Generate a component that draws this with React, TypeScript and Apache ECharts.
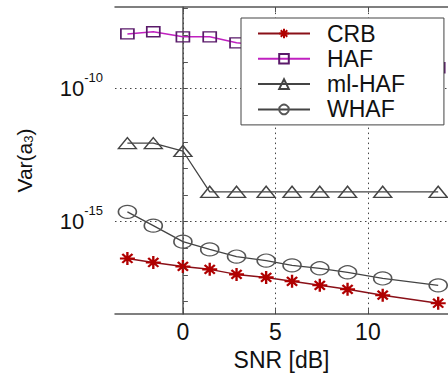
import React, { useEffect, useRef } from 'react';
import * as echarts from 'echarts';

// SNR grid [dB]
const SNR_DB = [-3, -1.6, 0, 1.45, 2.9, 4.5, 5.9, 7.4, 8.9, 10.8, 13.8];

// Var(a3) values
const CRB = [4.17e-17, 2.95e-17, 2.09e-17, 1.62e-17, 1.05e-17, 8.1e-18, 5.75e-18, 4.07e-18, 2.88e-18, 1.74e-18, 8.7e-19];
const HAF = [1.12e-8, 1.35e-8, 8.7e-9, 8.7e-9, 5.2e-9, 4.0e-9, 2.8e-9, 2.0e-9, 1.4e-9, 1.0e-9, 6.0e-10];
const ML_HAF = [8.9e-13, 8.9e-13, 4.5e-13, 1.32e-14, 1.32e-14, 1.32e-14, 1.32e-14, 1.32e-14, 1.32e-14, 1.32e-14, 1.32e-14];
const WHAF = [2.34e-15, 7.1e-16, 1.78e-16, 9.1e-17, 4.9e-17, 3.47e-17, 2.29e-17, 1.78e-17, 1.26e-17, 7.4e-18, 4.07e-18];

const LEGEND_NAMES = ['CRB', 'HAF', 'ml-HAF', 'WHAF'];

// axes (x in dB, y in log10 of variance)
const X_MIN = -3.67;
const X_MAX = 14.33;
const X_TICKS = [0, 5, 10];
const Y_MIN = -18.47;
const Y_MAX = -6.94;
const Y_TICKS = [-18, -17, -16, -15, -14, -13, -12, -11, -10, -9, -8, -7];
const Y_LABELS = [-15, -10];

const STAR = 'path://M0,5 L10,5 M5,0 L5,10 M1.6,1.6 L8.4,8.4 M8.4,1.6 L1.6,8.4';

export default function App() {
  const ref = useRef<HTMLDivElement>(null);
  useEffect(() => {
    const chart = echarts.init(ref.current!, null, { renderer: 'svg' });
    const pts = (vals: number[]) => SNR_DB.map((x, i) => [x, Math.log10(vals[i])]);
    const font = 'Liberation Sans, Arial, Helvetica, sans-serif';
    const axisColor = '#555';
    const gridLine = { type: [1.5, 3.5], color: '#444', width: 1 };
    chart.setOption({
      animation: false,
      backgroundColor: '#fff',
      textStyle: { fontFamily: font },
      grid: { left: 115, top: 7, right: -4, bottom: 60 },
      legend: {
        orient: 'vertical',
        left: 241,
        top: 18,
        padding: [3, 39, 3, 16],
        itemWidth: 52,
        itemHeight: 12,
        itemGap: 0.3,
        backgroundColor: '#fff',
        borderColor: '#444',
        borderWidth: 1,
        textStyle: { fontSize: 23, color: '#111', lineHeight: 25, padding: [0, 0, 0, 12], fontFamily: font },
        data: LEGEND_NAMES,
        z: 10,
      },
      xAxis: [
        {
          type: 'value',
          min: X_MIN,
          max: X_MAX,
          name: 'SNR [dB]',
          nameLocation: 'middle',
          nameGap: 28,
          nameTextStyle: { fontSize: 23, color: '#111', fontFamily: font },
          axisLine: { show: true, lineStyle: { color: axisColor, width: 1.5 } },
          axisTick: { show: true, inside: true, length: 5, customValues: X_TICKS, lineStyle: { color: axisColor } },
          axisLabel: { customValues: X_TICKS, fontSize: 23, color: '#111', margin: 6, fontFamily: font },
          splitLine: { show: false },
        },
        {
          type: 'value',
          position: 'top',
          min: X_MIN,
          max: X_MAX,
          axisLine: { show: true, lineStyle: { color: axisColor, width: 1.5 } },
          axisTick: { show: true, inside: true, length: 5, customValues: X_TICKS, lineStyle: { color: axisColor } },
          axisLabel: { show: false },
          splitLine: { show: false },
        },
      ],
      yAxis: {
        type: 'value',
        min: Y_MIN,
        max: Y_MAX,
        name: '{n|Var(a}{s|3}{n|)}',
        nameLocation: 'middle',
        nameGap: 80,
        nameTextStyle: {
          color: '#111',
          rich: {
            n: { fontSize: 21, color: '#111', fontFamily: font },
            s: { fontSize: 13, color: '#111', fontFamily: font, verticalAlign: 'bottom' },
          },
        },
        axisLine: { show: true, lineStyle: { color: axisColor, width: 1.5 } },
        axisTick: { show: true, inside: true, length: 5, customValues: Y_TICKS, lineStyle: { color: axisColor } },
        axisLabel: {
          customValues: Y_LABELS,
          margin: 12,
          formatter: (v: number) => `{b|10}{s|${Math.round(v)}}`,
          rich: {
            b: { fontSize: 22, color: '#111', lineHeight: 36, fontFamily: font },
            s: { fontSize: 13, color: '#111', verticalAlign: 'top', fontFamily: font },
          },
        },
        splitLine: { show: false },
      },
      series: [
        {
          name: 'grid',
          type: 'line',
          data: [],
          silent: true,
          markLine: {
            silent: true,
            symbol: 'none',
            label: { show: false },
            lineStyle: gridLine,
            data: [
              ...X_TICKS.map((x) => ({ xAxis: x })),
              ...Y_LABELS.map((y) => ({ yAxis: y })),
            ],
          },
        },
        {
          name: 'WHAF',
          type: 'line',
          data: pts(WHAF),
          symbol: 'circle',
          symbolSize: [18, 13],
          lineStyle: { color: '#444', width: 1.3 },
          itemStyle: { color: 'rgba(255,255,255,0)', borderColor: '#555', borderWidth: 1.4 },
        },
        {
          name: 'ml-HAF',
          type: 'line',
          data: pts(ML_HAF),
          symbol: 'triangle',
          symbolSize: [18, 11],
          lineStyle: { color: '#444', width: 1.3 },
          itemStyle: { color: 'rgba(255,255,255,0)', borderColor: '#444', borderWidth: 1.4 },
        },
        {
          name: 'HAF',
          type: 'line',
          data: pts(HAF),
          symbol: 'rect',
          symbolSize: [13, 10],
          lineStyle: { color: '#c020c0', width: 1.5 },
          itemStyle: { color: 'rgba(255,255,255,0)', borderColor: '#5a1a6a', borderWidth: 1.5 },
        },
        {
          name: 'CRB',
          type: 'line',
          data: pts(CRB),
          symbol: STAR,
          symbolSize: [15, 13],
          lineStyle: { color: '#8a1018', width: 1.5 },
          itemStyle: { color: '#d00000', borderColor: '#b00000', borderWidth: 2.2 },
        },
      ],
    });
    return () => chart.dispose();
  }, []);
  return <div ref={ref} style={{ position: 'fixed', left: 0, top: 0, width: 448, height: 376 }} />;
}
